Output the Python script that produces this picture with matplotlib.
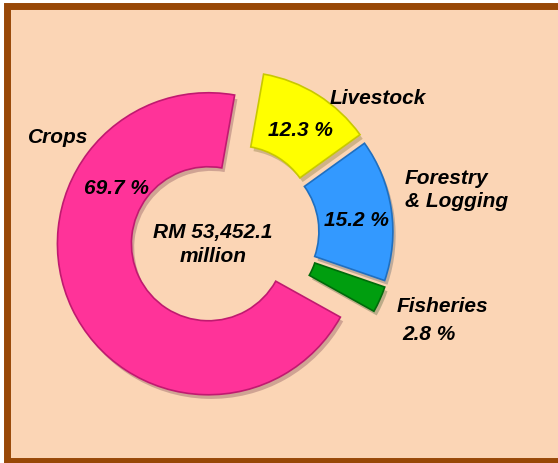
import matplotlib.pyplot as plt
import matplotlib.patches as mpatches
import matplotlib.patheffects as pe

# Data: share of agriculture output by sub-sector (%)
sectors = ["Livestock", "Forestry\n& Logging", "Fisheries", "Crops"]
shares = [12.3, 15.2, 2.8, 69.7]
colors = ["#FFFF00", "#3399FF", "#009E0F", "#FF3399"]
edge_colors = ["#C8C800", "#1F6FC0", "#006A0A", "#C01A70"]
explode_px = [12, 11, 12, 25]
total_text = "RM 53,452.1\nmillion"

W, H = 558, 464
fig = plt.figure(figsize=(W / 100, H / 100), dpi=100)
fig.patch.set_facecolor("white")
ax = fig.add_axes([0, 0, 1, 1])

# peach panel with brown frame
ax.add_patch(mpatches.Rectangle((6.5, 2.5), 600, 454.5, facecolor="#FBD5B5",
                                edgecolor="#984807", linewidth=5, zorder=0))

wedges, _ = ax.pie(shares, explode=explode_px, colors=colors, startangle=80,
                   counterclock=False, radius=151, center=(231, H - 234),
                   wedgeprops=dict(width=74, linewidth=1.2))
for w, ec in zip(wedges, edge_colors):
    w.set_edgecolor(ec)
    w.set_path_effects([pe.SimplePatchShadow(offset=(2, -3), alpha=0.25),
                        pe.Normal()])

font = dict(family=["Liberation Sans", "DejaVu Sans"], fontsize=15,
            fontweight="bold", fontstyle="italic", color="black")

# category labels (x centre, baseline y in pixels from top)
name_pos = [(378, 104), (456, 184), (442, 312), (58, 143)]
for name, (x, y) in zip(sectors, name_pos):
    lines = name.split("\n")
    for i, line in enumerate(lines):
        ha = "center" if len(lines) == 1 else "left"
        xx = x if ha == "center" else 405
        ax.text(xx, H - (y + i * 23), line, ha=ha, va="baseline", **font)

# percentage labels
pct_pos = [(300, 136), (356, 226), (429, 340), (116, 194)]
for v, (x, y) in zip(shares, pct_pos):
    ax.text(x, H - y, f"{v} %", ha="center", va="baseline", **font)

# centre total
lines = total_text.split("\n")
ax.text(213, H - 238, lines[0], ha="center", va="baseline", **font)
ax.text(213, H - 262, lines[1], ha="center", va="baseline", **font)

ax.set_xlim(0, W)
ax.set_ylim(0, H)
ax.set_aspect("auto")
ax.axis("off")

fig.savefig("out.png", dpi=100)
